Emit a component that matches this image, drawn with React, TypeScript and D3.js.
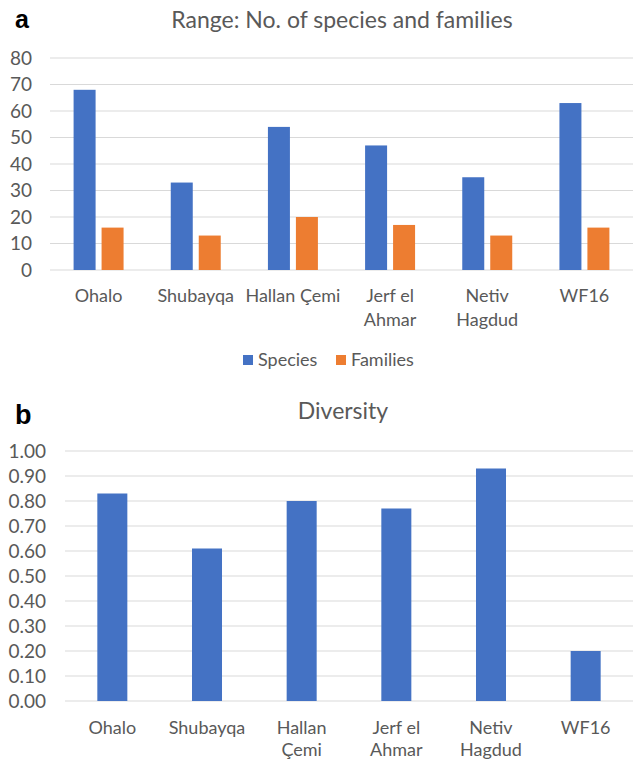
import React, { useEffect, useRef } from 'react';
import * as d3 from 'd3';

const sitesA = ['Ohalo', 'Shubayqa', 'Hallan Çemi', 'Jerf el\nAhmar', 'Netiv\nHagdud', 'WF16'];
const sitesB = ['Ohalo', 'Shubayqa', 'Hallan\nÇemi', 'Jerf el\nAhmar', 'Netiv\nHagdud', 'WF16'];
const seriesNames = ['Species', 'Families'];
const species = [68, 33, 54, 47, 35, 63];
const families = [16, 13, 20, 17, 13, 16];
const diversity = [0.83, 0.61, 0.8, 0.77, 0.93, 0.2];
const ticksA = [0, 10, 20, 30, 40, 50, 60, 70, 80];
const ticksB = [0, 0.1, 0.2, 0.3, 0.4, 0.5, 0.6, 0.7, 0.8, 0.9, 1.0];

const BLUE = '#4472C4';
const ORANGE = '#ED7D31';
const GRID = '#d9d9d9';
const TXT = '#595959';
const FONT = 'Lato, "Open Sans", sans-serif';
const TICK_FS = 19;
const LABEL_FS = 18;
const TITLE_FS = 23;

const App: React.FC = () => {
  const ref = useRef<SVGSVGElement>(null);

  useEffect(() => {
    if (!ref.current) return;
    const svg = d3.select(ref.current);
    svg.selectAll('*').remove();

    // ---- panel a
    const ga = svg.append('g');
    const ya = d3.scaleLinear().domain([0, 80]).range([270, 58]);
    const x0 = d3.scaleBand().domain(sitesA).range([50, 633]);
    const x1 = d3
      .scaleBand()
      .domain(seriesNames)
      .range([0, x0.bandwidth()])
      .paddingInner(0.214)
      .paddingOuter(0.843);

    ga.append('g')
      .selectAll('line')
      .data(ticksA)
      .join('line')
      .attr('x1', 50)
      .attr('x2', 633)
      .attr('y1', (d) => ya(d))
      .attr('y2', (d) => ya(d))
      .attr('stroke', GRID)
      .attr('stroke-width', 1.2);

    ga.append('g')
      .selectAll('text')
      .data(ticksA)
      .join('text')
      .attr('x', 32)
      .attr('y', (d) => ya(d))
      .attr('dy', '0.35em')
      .attr('text-anchor', 'end')
      .attr('font-family', FONT)
      .attr('font-size', TICK_FS)
      .attr('fill', TXT)
      .text((d) => String(d));

    const rowsA = sitesA.map((s, i) => ({ site: s, vals: [species[i], families[i]] }));
    ga.append('g')
      .selectAll('g')
      .data(rowsA)
      .join('g')
      .attr('transform', (d) => `translate(${x0(d.site)},0)`)
      .selectAll('rect')
      .data((d) => d.vals.map((v, j) => ({ key: seriesNames[j], v })))
      .join('rect')
      .attr('x', (d) => x1(d.key)!)
      .attr('width', x1.bandwidth())
      .attr('y', (d) => ya(d.v))
      .attr('height', (d) => ya(0) - ya(d.v))
      .attr('fill', (d) => (d.key === 'Species' ? BLUE : ORANGE));

    ga.append('g')
      .selectAll('text')
      .data(sitesA)
      .join('text')
      .attr('y', 302)
      .attr('text-anchor', 'middle')
      .attr('font-family', FONT)
      .attr('font-size', LABEL_FS)
      .attr('fill', TXT)
      .each(function (d) {
        const t = d3.select(this);
        const cx = x0(d)! + x0.bandwidth() / 2;
        d.split('\n').forEach((line, i) => {
          t.append('tspan')
            .attr('x', cx)
            .attr('dy', i === 0 ? 0 : 24)
            .text(line);
        });
      });

    ga.append('text')
      .attr('x', 342)
      .attr('y', 28)
      .attr('text-anchor', 'middle')
      .attr('font-family', FONT)
      .attr('font-size', TITLE_FS)
      .attr('fill', TXT)
      .text('Range: No. of species and families');

    ga.append('text')
      .attr('x', 15)
      .attr('y', 28)
      .attr('font-family', '"Liberation Sans", Arial, sans-serif')
      .attr('font-weight', 'bold')
      .attr('font-size', 25)
      .attr('fill', '#000')
      .text('a');

    // legend
    const legendX = [243, 336];
    const lg = ga
      .append('g')
      .selectAll('g')
      .data(seriesNames)
      .join('g')
      .attr('transform', (d, i) => `translate(${legendX[i]},355)`);
    lg.append('rect')
      .attr('width', 10)
      .attr('height', 10)
      .attr('fill', (d) => (d === 'Species' ? BLUE : ORANGE));
    lg.append('text')
      .attr('x', 15)
      .attr('y', 5)
      .attr('dy', '0.35em')
      .attr('font-family', FONT)
      .attr('font-size', LABEL_FS)
      .attr('fill', TXT)
      .text((d) => d);

    // ---- panel b
    const gb = svg.append('g');
    const yb = d3.scaleLinear().domain([0, 1]).range([701, 451]);
    const xb = d3
      .scaleBand()
      .domain(sitesB)
      .range([65, 633])
      .paddingInner(0.683)
      .paddingOuter(0.3415);

    gb.append('g')
      .selectAll('line')
      .data(ticksB)
      .join('line')
      .attr('x1', 65)
      .attr('x2', 633)
      .attr('y1', (d) => yb(d))
      .attr('y2', (d) => yb(d))
      .attr('stroke', GRID)
      .attr('stroke-width', 1.2);

    gb.append('g')
      .selectAll('text')
      .data(ticksB)
      .join('text')
      .attr('x', 46)
      .attr('y', (d) => yb(d))
      .attr('dy', '0.35em')
      .attr('text-anchor', 'end')
      .attr('font-family', FONT)
      .attr('font-size', TICK_FS)
      .attr('fill', TXT)
      .text((d) => d.toFixed(2));

    gb.append('g')
      .selectAll('rect')
      .data(diversity)
      .join('rect')
      .attr('x', (d, i) => xb(sitesB[i])!)
      .attr('width', xb.bandwidth())
      .attr('y', (d) => yb(d))
      .attr('height', (d) => yb(0) - yb(d))
      .attr('fill', BLUE);

    gb.append('g')
      .selectAll('text')
      .data(sitesB)
      .join('text')
      .attr('y', 734)
      .attr('text-anchor', 'middle')
      .attr('font-family', FONT)
      .attr('font-size', LABEL_FS)
      .attr('fill', TXT)
      .each(function (d) {
        const t = d3.select(this);
        const cx = xb(d)! + xb.bandwidth() / 2;
        d.split('\n').forEach((line, i) => {
          t.append('tspan')
            .attr('x', cx)
            .attr('dy', i === 0 ? 0 : 22)
            .text(line);
        });
      });

    gb.append('text')
      .attr('x', 343)
      .attr('y', 419)
      .attr('text-anchor', 'middle')
      .attr('font-family', FONT)
      .attr('font-size', TITLE_FS)
      .attr('fill', TXT)
      .text('Diversity');

    gb.append('text')
      .attr('x', 15)
      .attr('y', 424)
      .attr('font-family', '"Liberation Sans", Arial, sans-serif')
      .attr('font-weight', 'bold')
      .attr('font-size', 27)
      .attr('fill', '#000')
      .text('b');
  }, []);

  return (
    <div style={{ position: 'absolute', left: 0, top: 0, background: '#fff' }}>
      <svg ref={ref} width={639} height={760} />
    </div>
  );
};

export default App;
